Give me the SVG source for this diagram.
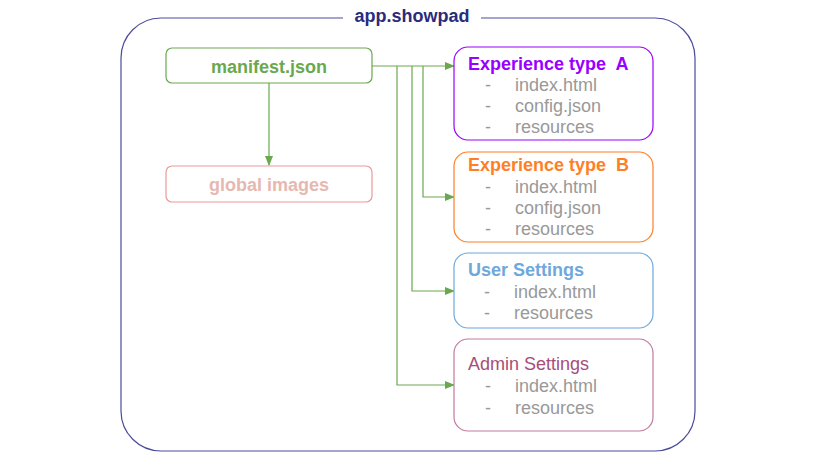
<svg xmlns="http://www.w3.org/2000/svg" width="822" height="460" viewBox="0 0 822 460">
<defs>
<marker id="arr" markerWidth="10" markerHeight="8" refX="9" refY="4" orient="auto" markerUnits="userSpaceOnUse">
<path d="M0,0 L10,4 L0,8 Z" fill="#6aa84f"/>
</marker>
<style>
text{font-family:"Liberation Sans",Arial,sans-serif;font-size:18px}
.b{font-weight:bold}
.pre{white-space:pre}
.item{fill:#999999}
.box{fill:#ffffff;stroke-width:1.2}
.conn{fill:none;stroke:#6aa84f;stroke-width:1.2}
</style>
</defs>
<rect width="822" height="460" fill="#ffffff"/>
<g id="container">
<path d="M343,18 H161 A40,40 0 0 0 121,58 V411 A40,40 0 0 0 161,451 H655 A40,40 0 0 0 695,411 V58 A40,40 0 0 0 655,18 H481" fill="none" stroke="#4a4a9c" stroke-width="1.2"/>
<text x="412" y="22" text-anchor="middle" class="b" fill="#2b2b7e">app.showpad</text>
</g>
<g id="connectors">
<path class="conn" d="M269,83 V165" marker-end="url(#arr)"/>
<path class="conn" d="M372,66 H454" marker-end="url(#arr)"/>
<path class="conn" d="M423,66 V197 H454" marker-end="url(#arr)"/>
<path class="conn" d="M412,66 V291 H454" marker-end="url(#arr)"/>
<path class="conn" d="M397,66 V385 H454" marker-end="url(#arr)"/>
</g>
<g id="manifest">
<rect class="box" x="166" y="48" width="206" height="35" rx="6" stroke="#6aa84f"/>
<text x="269" y="73" text-anchor="middle" class="b" fill="#6aa84f">manifest.json</text>
</g>
<g id="global-images">
<rect class="box" x="166" y="166" width="206" height="36" rx="6" stroke="#ea9999"/>
<text x="269" y="191" text-anchor="middle" class="b" fill="#e6b8af">global images</text>
</g>
<g id="exp-a">
<rect class="box" x="454" y="47" width="199" height="93" rx="14" stroke="#9900ff"/>
<text x="468" y="70" class="b pre" fill="#9900ff" xml:space="preserve">Experience type  A</text>
<text x="485" y="91" class="item">-</text><text x="515" y="91" class="item">index.html</text>
<text x="485" y="112" class="item">-</text><text x="515" y="112" class="item">config.json</text>
<text x="485" y="133" class="item">-</text><text x="515" y="133" class="item">resources</text>
</g>
<g id="exp-b">
<rect class="box" x="454" y="152" width="199" height="90" rx="14" stroke="#ff7f27"/>
<text x="468" y="171" class="b pre" fill="#ff7f27" xml:space="preserve">Experience type  B</text>
<text x="485" y="193" class="item">-</text><text x="515" y="193" class="item">index.html</text>
<text x="485" y="214" class="item">-</text><text x="515" y="214" class="item">config.json</text>
<text x="485" y="235" class="item">-</text><text x="515" y="235" class="item">resources</text>
</g>
<g id="user-settings">
<rect class="box" x="454" y="253" width="199" height="75" rx="14" stroke="#6fa8dc"/>
<text x="468" y="276" class="b" fill="#6fa8dc">User Settings</text>
<text x="484" y="298" class="item">-</text><text x="514" y="298" class="item">index.html</text>
<text x="484" y="319" class="item">-</text><text x="514" y="319" class="item">resources</text>
</g>
<g id="admin-settings">
<rect class="box" x="454" y="339" width="199" height="92" rx="14" stroke="#c27ba0"/>
<text x="468" y="370" fill="#a64d79">Admin Settings</text>
<text x="485" y="392" class="item">-</text><text x="515" y="392" class="item">index.html</text>
<text x="485" y="414" class="item">-</text><text x="515" y="414" class="item">resources</text>
</g>
</svg>
